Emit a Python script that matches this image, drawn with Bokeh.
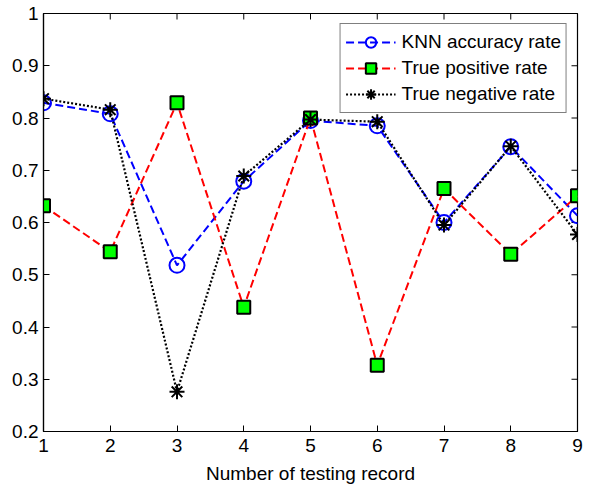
import math
from bokeh.plotting import figure
from bokeh.models import Range1d, FixedTicker, Legend, LegendItem
from bokeh.embed import file_html
from bokeh.resources import INLINE

records = [1, 2, 3, 4, 5, 6, 7, 8, 9]
knn_accuracy = [0.829, 0.808, 0.518, 0.679, 0.795, 0.785, 0.600, 0.745, 0.613]
true_positive = [0.632, 0.544, 0.829, 0.438, 0.800, 0.327, 0.665, 0.539, 0.651]
true_negative = [0.837, 0.816, 0.276, 0.689, 0.797, 0.793, 0.595, 0.746, 0.577]
y_ticks = [0.2, 0.3, 0.4, 0.5, 0.6, 0.7, 0.8, 0.9, 1.0]
x_ticks = records
x_label = "Number of testing record"
series_labels = ["KNN accuracy rate", "True positive rate", "True negative rate"]

FONT = "Liberation Sans"
FS = "19px"

x_lo, x_hi = x_ticks[0], x_ticks[-1]
y_lo, y_hi = y_ticks[0], y_ticks[-1]

p = figure(width=583, height=486, output_backend="svg", toolbar_location=None,
           x_range=Range1d(x_lo, x_hi), y_range=Range1d(y_lo, y_hi),
           min_border_left=43, min_border_right=6, min_border_top=13, min_border_bottom=51)
p.xgrid.visible = False
p.ygrid.visible = False
p.outline_line_color = "black"
p.outline_line_width = 1.2
p.background_fill_color = "white"
p.border_fill_color = "white"

for ax, ticks in ((p.xaxis[0], x_ticks), (p.yaxis[0], y_ticks)):
    ax.ticker = FixedTicker(ticks=ticks)
    ax.major_tick_in = 6
    ax.major_tick_out = 0
    ax.minor_tick_line_color = None
    ax.axis_line_color = "black"
    ax.axis_line_width = 1.2
    ax.major_tick_line_color = "black"
    ax.major_label_text_font = FONT
    ax.major_label_text_font_size = FS
    ax.major_label_text_color = "black"

p.xaxis[0].major_label_standoff = 7
p.yaxis[0].major_label_standoff = 5
p.yaxis[0].major_label_overrides = {1.0: "1", 1: "1"}
p.xaxis[0].axis_label = x_label
p.xaxis[0].axis_label_text_font = FONT
p.xaxis[0].axis_label_text_font_size = FS
p.xaxis[0].axis_label_text_font_style = "normal"
p.xaxis[0].axis_label_text_color = "black"
p.xaxis[0].axis_label_standoff = 8

# mirrored inward ticks on the top and right edges of the box
p.scatter(x_ticks, [y_hi] * len(x_ticks), marker="dash", angle=math.pi / 2, size=12,
          line_color="black", line_width=1)
p.scatter([x_hi] * len(y_ticks), y_ticks, marker="dash", size=12,
          line_color="black", line_width=1)

l1 = p.line(records, knn_accuracy, line_color="#0000ff", line_width=2, line_dash="8 4")
s1 = p.scatter(records, knn_accuracy, marker="circle", size=15, fill_color=None,
               line_color="#0000ff", line_width=2)
l2 = p.line(records, true_positive, line_color="#ff0000", line_width=2, line_dash="8 4")
s2 = p.scatter(records, true_positive, marker="square", size=13, fill_color="#00ff00",
               line_color="black", line_width=2)
l3 = p.line(records, true_negative, line_color="black", line_width=2.2, line_dash="2 2")
s3 = p.scatter(records, true_negative, marker="asterisk", size=15, line_color="black",
               line_width=2)

legend = Legend(items=[
    LegendItem(label=series_labels[0], renderers=[l1, s1]),
    LegendItem(label=series_labels[1], renderers=[l2, s2]),
    LegendItem(label=series_labels[2], renderers=[l3, s3]),
], location="top_right")
legend.glyph_width = 50
legend.glyph_height = 26
legend.spacing = 0
legend.padding = 5
legend.margin = 10
legend.label_standoff = 6
legend.label_text_font = FONT
legend.label_text_font_size = FS
legend.label_text_color = "black"
legend.border_line_color = "black"
legend.border_line_width = 1.2
legend.background_fill_color = "white"
legend.background_fill_alpha = 1
p.add_layout(legend, "center")

open("out.html", "w").write(file_html(p, INLINE))
